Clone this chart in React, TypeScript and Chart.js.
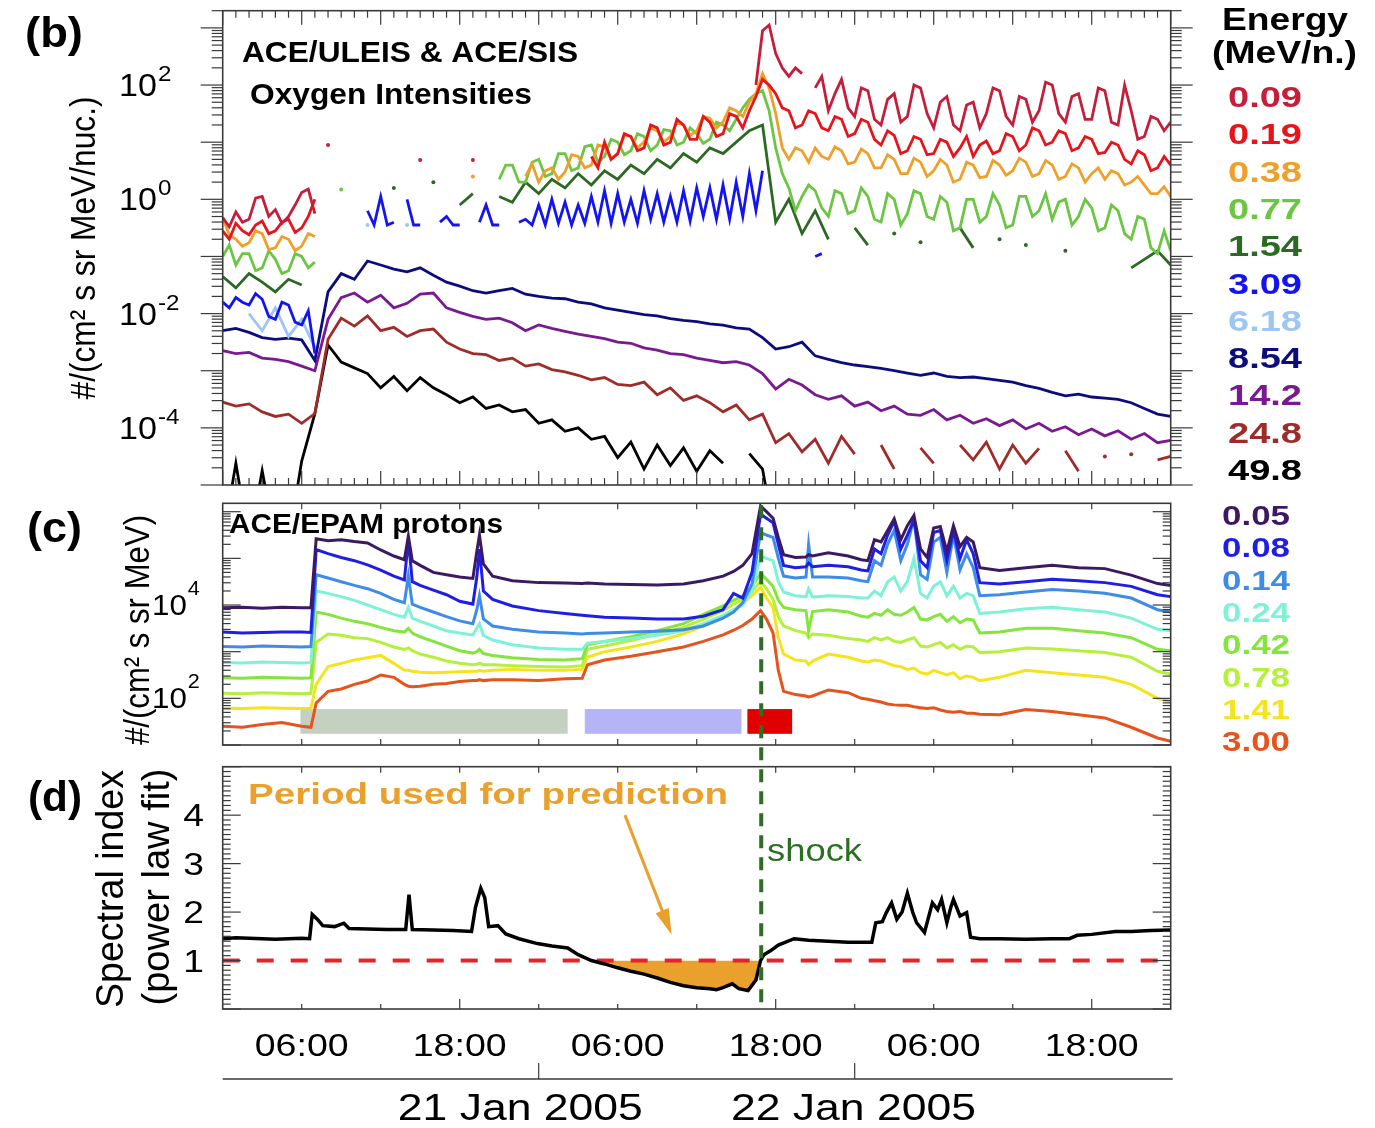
import React, { useEffect, useRef } from "react";
import { Chart, registerables } from "chart.js";

Chart.register(...registerables);

const _ = null;

/* ================= time axis (hours after 20 Jan 2005 00:00 UT) ================= */
const HOUR_MIN = 0;
const HOUR_MAX = 72;
const TIME_TICK_HOURS = [6, 18, 30, 42, 54, 66];
const TIME_TICK_LABELS = ["06:00", "18:00", "06:00", "18:00", "06:00", "18:00"];
const DATE_TICK_HOURS = [24, 48];
const DATE_LABEL_HOURS = [22.6, 47.9];
const DATE_TICK_LABELS = ["21 Jan 2005", "22 Jan 2005"];
const SHOCK_HOUR = 40.9;

/* ================= panel (b): oxygen intensities, log10 ================= */
// hourly grid (73 samples) and half-hour grid (145 samples)
const O_HOURS = Array.from({ length: 73 }, (_v, i) => i);
const O_HALF_HOURS = Array.from({ length: 145 }, (_v, i) => i / 2);
const O_Y_MIN = 1e-5;
const O_Y_MAX = 2e3;
const O_LABEL_DECADES = [-4, -2, 0, 2];

// half-hour samples
const O_009 = [
  -0.32, -0.48, -0.22, -0.40, -0.35, 0.02, 0.05, -0.30, -0.18, -0.42,
  -0.30, -0.10, 0.12, 0.18, -0.25, _, 0.95, _, _, _,
  _, _, _, _, _, _, _, _, _, _,
  0.69, _, _, _, _, _, _, _, 0.69, _,
  _, _, _, _, _, _, _, _, _, _,
  _, _, _, _, _, _, _, _, _, _,
  _, _, _, _, _, _, _, _, _, _,
  _, _, _, _, _, _, _, _, _, _,
  _, 2.00, 2.95, 3.05, 2.55, 2.30, 2.15, 2.30, 2.20, _,
  1.95, 2.15, 1.55, 1.85, 2.10, 1.60, 1.45, 1.95, 1.90, 1.40,
  1.30, 1.75, 1.85, 1.35, 1.45, 2.00, 1.95, 1.50, 1.25, 1.70,
  1.80, 1.30, 1.20, 1.65, 1.70, 1.25, 1.50, 1.95, 1.90, 1.45,
  1.30, 1.80, 1.75, 1.35, 1.55, 2.05, 2.00, 1.50, 1.35, 1.80,
  1.85, 1.40, 1.40, 1.95, 1.90, 1.35, 1.30, 2.00, 1.55, 1.05,
  1.10, 1.45, 1.40, 1.20, 1.35,
];
const O_019 = [
  -0.55, -0.70, -0.42, -0.55, -0.62, -0.45, -0.38, -0.60, -0.55, -0.40,
  -0.35, -0.58, -0.50, -0.30, 0.00, _, _, _, _, _,
  _, _, _, _, _, _, _, _, _, _,
  _, _, _, _, _, _, _, _, _, _,
  _, _, _, _, _, _, _, _, _, _,
  _, _, _, _, _, _, 0.75, 0.55, 1.00, 0.70,
  0.80, 1.15, 1.10, 0.85, 0.90, 1.30, 1.25, 0.95, 1.00, 1.40,
  1.30, 1.05, 1.05, 1.45, 1.35, 1.10, 1.15, 1.50, 1.45, 1.25,
  1.55, 1.80, 2.10, 2.00, 1.85, 1.60, 1.55, 1.25, 1.30, 1.55,
  1.50, 1.25, 1.20, 1.45, 1.40, 1.10, 1.15, 1.40, 1.35, 1.05,
  0.95, 1.20, 1.12, 0.80, 0.85, 1.10, 1.05, 0.78, 0.80, 1.05,
  1.00, 0.75, 0.90, 1.10, 0.75, 0.95, 1.02, 0.80, 0.85, 1.15,
  1.10, 0.85, 0.95, 1.25, 1.20, 0.95, 1.00, 1.20, 1.15, 0.85,
  0.90, 1.10, 1.05, 0.80, 0.82, 1.00, 0.95, 0.70, 0.62, 0.85,
  0.78, 0.50, 0.55, 0.75, 0.60,
];
const O_038 = [
  -0.32, -0.62, -0.70, -0.82, -0.76, -0.55, -0.60, -0.88, -0.85, -0.65,
  -0.70, -0.90, -0.82, -0.60, -0.65, _, _, _, _, _,
  _, _, _, _, _, _, _, _, _, _,
  _, _, _, _, _, _, _, _, 0.40, _,
  _, _, _, _, _, _, 0.40, 0.62, 0.30, 0.50,
  0.55, 0.35, 0.48, 0.78, 0.75, 0.55, 0.60, 0.95, 0.92, 0.70,
  0.80, 1.12, 1.10, 0.90, 1.00, 1.25, 1.20, 1.00, 1.10, 1.35,
  1.30, 1.12, 1.20, 1.45, 1.42, 1.25, 1.35, 1.60, 1.55, 1.45,
  1.70, 1.85, 2.20, 1.95, 1.50, 0.90, 0.70, 0.90, 0.85, 0.65,
  0.90, 0.75, 0.70, 0.92, 0.85, 0.62, 0.65, 0.88, 0.80, 0.55,
  0.55, 0.78, 0.70, 0.45, 0.45, 0.72, 0.65, 0.40, 0.50, 0.70,
  0.60, 0.30, 0.35, 0.65, 0.60, 0.38, 0.40, 0.68, 0.60, 0.42,
  0.50, 0.72, 0.65, 0.40, 0.45, 0.68, 0.60, 0.35, 0.40, 0.62,
  0.55, 0.30, 0.45, 0.55, 0.35, 0.50, 0.45, 0.25, 0.30, 0.40,
  0.25, 0.10, 0.10, 0.22, 0.05,
];
const O_077 = [
  -1.00, -0.80, -1.15, -0.95, -0.95, -1.25, -1.20, -0.90, -1.05, -1.30,
  -1.25, -0.95, -1.00, -1.20, -1.10, _, _, _, 0.17, _,
  _, _, _, _, _, _, _, _, _, _,
  _, _, _, _, _, _, _, _, _, _,
  _, _, 0.35, 0.60, 0.60, 0.30, 0.30, 0.65, 0.70, 0.40,
  0.45, 0.80, 0.80, 0.50, 0.55, 0.92, 0.95, 0.65, 0.75, 1.05,
  1.00, 0.78, 0.85, 1.15, 1.10, 0.85, 0.95, 1.22, 1.20, 0.95,
  1.00, 1.25, 1.15, 0.98, 1.05, 1.35, 1.30, 1.20, 1.40, 1.60,
  1.75, 1.85, 1.90, 1.55, 0.90, 0.45, 0.20, -0.20, 0.05, 0.25,
  0.15, -0.15, -0.30, 0.15, 0.10, -0.25, -0.20, 0.20, 0.05, -0.35,
  -0.40, 0.10, 0.00, -0.45, -0.25, 0.15, 0.10, -0.30, -0.35, 0.05,
  -0.05, -0.55, -0.50, 0.00, 0.00, -0.40, -0.30, 0.10, -0.10, -0.50,
  -0.45, 0.05, 0.05, -0.30, -0.20, 0.10, -0.35, -0.05, 0.00, -0.45,
  -0.30, 0.00, -0.15, -0.55, -0.50, -0.10, -0.20, -0.60, -0.70, -0.30,
  -0.35, -0.85, -0.95, -0.55, -0.90,
];
const O_309 = [
  -1.80, -1.90, -1.72, -1.80, -1.85, -1.65, -1.75, -2.05, -2.10, -1.80,
  -1.85, -2.15, -2.20, -1.95, -2.70, _, _, _, _, _,
  _, _, -0.20, -0.45, 0.05, -0.45, -0.40, _, 0.00, -0.45,
  -0.45, _, _, -0.40, -0.30, -0.45, -0.45, _, _, -0.40,
  -0.10, -0.45, -0.45, _, _, -0.40, -0.35, -0.45, -0.10, -0.45,
  0.00, -0.42, -0.05, -0.45, -0.10, -0.42, 0.05, -0.40, 0.15, -0.42,
  0.10, -0.40, 0.00, -0.42, 0.15, -0.35, 0.10, -0.40, 0.05, -0.40,
  0.15, -0.38, 0.20, -0.30, 0.20, -0.35, 0.25, -0.35, 0.30, -0.30,
  0.45, -0.20, 0.50, _, _, _, _, _, _, _,
  -1.00, -0.95, _, _, _, _, _, _, _, _,
  _, _, _, _, _, _, _, _, _, _,
  _, _, _, _, _, _, _, _, _, _,
  _, _, _, _, _, _, _, _, _, _,
  _, _, _, _, _, _, _, _, _, _,
  _, _, _, _, _,
];
// hourly samples
const O_154 = [
  -1.35, -1.55, -1.30, -1.45, -1.62, -1.40, -1.50, _, _, _,
  _, _, _, 0.20, _, _, 0.30, _, -0.10, 0.10,
  _, 0.05, -0.05, 0.30, 0.10, 0.35, 0.20, 0.45, 0.25, 0.50,
  0.35, 0.60, 0.45, 0.70, 0.55, 0.80, 0.65, 0.90, 0.80, 1.00,
  1.20, 1.30, -0.40, 0.00, -0.60, -0.20, -0.70, _, -0.50, -0.80,
  _, -0.60, _, -0.75, _, _, -0.50, -0.85, _, -0.70,
  _, -0.80, _, _, -0.90, _, _, _, _, -1.20,
  -1.05, -0.90, -1.15,
];
const O_618 = [
  _, _, -2.00, -2.30, -1.90, -2.40, -2.10, -2.60, _, _,
  _, -0.45, _, _, -0.45, _, _, _, _, _,
  _, _, _, _, _, _, _, _, _, _,
  _, _, _, _, _, _, _, _, _, _,
  _, _, _, _, _, _, _, _, _, _,
  _, _, _, _, _, _, _, _, _, _,
  _, _, _, _, _, _, _, _, _, _,
  _, _, _,
];
const O_854 = [
  -2.30, -2.26, -2.33, -2.42, -2.45, -2.43, -2.46, -2.82, -1.62, -1.30,
  -1.40, -1.08, -1.15, -1.22, -1.27, -1.20, -1.33, -1.45, -1.52, -1.60,
  -1.64, -1.60, -1.56, -1.66, -1.70, -1.73, -1.74, -1.80, -1.83, -1.90,
  -1.94, -1.98, -2.02, -2.04, -2.09, -2.12, -2.14, -2.18, -2.20, -2.25,
  -2.27, -2.42, -2.62, -2.58, -2.50, -2.74, -2.80, -2.86, -2.90, -2.93,
  -2.96, -3.00, -3.04, -3.08, -3.04, -3.10, -3.12, -3.11, -3.14, -3.17,
  -3.20, -3.26, -3.31, -3.38, -3.44, -3.41, -3.46, -3.48, -3.50, -3.56,
  -3.66, -3.76, -3.80,
];
const O_142 = [
  -2.65, -2.70, -2.68, -2.78, -2.80, -2.84, -2.92, -3.00, -2.10, -1.72,
  -1.64, -1.80, -1.68, -1.90, -1.82, -1.66, -1.64, -1.90, -1.98, -2.05,
  -2.10, -2.08, -2.16, -2.30, -2.20, -2.26, -2.31, -2.36, -2.40, -2.44,
  -2.50, -2.52, -2.60, -2.64, -2.70, -2.72, -2.78, -2.82, -2.86, -2.84,
  -2.90, -3.05, -3.32, -3.15, -3.25, -3.42, -3.50, -3.44, -3.62, -3.55,
  -3.70, -3.62, -3.76, -3.78, -3.68, -3.86, -3.78, -3.92, -3.84, -3.96,
  -3.86, -4.02, -3.92, -4.06, -3.98, -4.12, -4.02, -4.14, -4.05, -4.20,
  -4.10, -4.26, -4.22,
];
const O_248 = [
  -3.55, -3.62, -3.58, -3.72, -3.80, -3.76, -3.92, -3.75, -2.45, -2.08,
  -2.22, -2.04, -2.30, -2.24, -2.40, -2.30, -2.27, -2.50, -2.62, -2.70,
  -2.72, -2.82, -2.78, -2.92, -2.88, -2.98, -3.02, -3.08, -3.16, -3.12,
  -3.24, -3.26, -3.20, -3.42, -3.30, -3.52, -3.44, -3.56, -3.72, -3.60,
  -3.86, -3.76, -4.26, -4.10, -4.42, -4.20, -4.62, -4.15, -4.46, _,
  -4.30, -4.72, _, -4.35, -4.62, _, -4.30, -4.56, -4.25, -4.72,
  -4.30, -4.62, -4.36, _, -4.40, -4.76, _, -4.50, _, -4.46,
  _, -4.56, -4.50,
];
const O_498 = [
  -6.00, -4.62, -6.00, -4.75, -6.00, -6.00, -4.58, -3.75, -2.55, -2.85,
  -2.95, -3.05, -3.30, -3.10, -3.35, -3.12, -3.30, -3.42, -3.56, -3.46,
  -3.66, -3.60, -3.72, -3.68, -3.92, -3.86, -4.06, -4.00, -4.20, -4.15,
  -4.52, -4.25, -4.72, -4.30, -4.66, -4.35, -4.76, -4.40, -4.62, _,
  -4.45, -4.72, -6.00, _, _, _, _, _, _, _,
  _, _, _, _, _, _, _, _, _, _,
  _, _, _, _, _, _, _, _, _, _,
  _, _, _,
];
const O_ENERGIES = ["0.09", "0.19", "0.38", "0.77", "1.54", "3.09", "6.18", "8.54", "14.2", "24.8", "49.8"];
const O_COLORS = ["#c41e3a", "#e8141c", "#eea02a", "#6cc644", "#2b6a22", "#1414f0", "#9ec6f2", "#0c0c7e", "#7a1a92", "#9e2d2a", "#000000"];
const O_SERIES = [O_009, O_019, O_038, O_077, O_154, O_309, O_618, O_854, O_142, O_248, O_498];

/* ================= panel (c): EPAM protons, log10 intensity ================= */
const P_HOURS = [
  0, 1.5, 3, 4.5, 6, 6.7, 7.1, 8, 9, 10,
  11, 12, 13, 13.8, 14.1, 14.4, 15, 16, 17, 18,
  19, 19.3, 19.5, 19.8, 20.5, 22, 24, 26, 27.3, 27.7,
  29, 31, 33, 35, 36.5, 38, 38.8, 39.5, 40.2, 40.85,
  41.3, 41.8, 42.2, 42.6, 43.5, 44.3, 44.5, 44.8, 46, 47.5,
  48.5, 49, 49.5, 50, 50.5, 51, 51.5, 52, 52.5, 53,
  53.5, 54, 54.5, 55, 55.5, 56, 56.5, 57, 57.5, 59,
  61, 63, 65, 67, 69, 71, 72,
];
const P_Y_MIN = 10;
const P_Y_MAX = 1.5136e6;
const P_LABEL_DECADES = [2, 4];
const P_005 = [
  3.94, 3.95, 3.93, 3.95, 3.94, 3.94, 5.42, 5.38, 5.40, 5.36,
  5.33, 5.18, 5.05, 4.97, 5.48, 4.95, 4.85, 4.70, 4.65, 4.60,
  4.57, 5.15, 5.50, 4.88, 4.62, 4.52, 4.48, 4.47, 4.46, 4.47,
  4.45, 4.44, 4.43, 4.45, 4.52, 4.62, 4.72, 4.85, 5.10, 6.12,
  6.00, 5.86, 5.45, 5.08, 5.02, 5.03, 5.08, 5.05, 5.12, 5.05,
  4.97, 4.95, 5.40, 5.35, 5.60, 5.85, 5.40, 5.70, 5.92, 5.20,
  5.02, 5.65, 5.68, 5.15, 5.70, 5.25, 5.45, 5.35, 4.80, 4.74,
  4.80, 4.85, 4.80, 4.78, 4.64, 4.46, 4.42,
];
const P_008 = [
  3.42, 3.40, 3.41, 3.42, 3.42, 3.41, 5.19, 5.10, 5.02, 4.95,
  4.86, 4.75, 4.62, 4.54, 5.40, 4.50, 4.42, 4.32, 4.22, 4.08,
  4.02, 4.60, 5.20, 4.30, 4.12, 3.98, 3.88, 3.82, 3.78, 3.77,
  3.74, 3.72, 3.70, 3.70, 3.76, 3.90, 4.25, 4.15, 4.70, 5.95,
  5.86, 5.76, 5.30, 4.85, 4.80, 4.82, 4.90, 4.82, 4.85, 4.82,
  4.75, 4.73, 5.20, 5.10, 5.50, 5.80, 5.20, 5.50, 5.82, 4.95,
  4.80, 5.55, 5.60, 4.95, 5.60, 5.00, 5.40, 5.10, 4.48, 4.45,
  4.50, 4.55, 4.52, 4.48, 4.40, 4.22, 4.18,
];
const P_014 = [
  3.11, 3.10, 3.12, 3.11, 3.10, 3.11, 4.65, 4.58, 4.50, 4.42,
  4.35, 4.25, 4.12, 4.05, 4.62, 4.02, 3.95, 3.85, 3.75, 3.66,
  3.60, 3.90, 4.20, 3.70, 3.55, 3.48, 3.42, 3.40, 3.38, 3.39,
  3.40, 3.42, 3.44, 3.47, 3.55, 3.72, 3.85, 4.05, 4.45, 5.55,
  5.50, 5.45, 5.00, 4.62, 4.58, 4.60, 5.30, 4.60, 4.60, 4.58,
  4.52, 4.50, 4.95, 4.85, 5.30, 5.60, 4.95, 5.30, 5.85, 4.65,
  4.55, 5.35, 5.45, 4.70, 5.50, 4.75, 5.10, 4.80, 4.20, 4.22,
  4.28, 4.33, 4.30, 4.25, 4.15, 3.90, 3.85,
];
const P_024 = [
  2.77, 2.76, 2.78, 2.77, 2.76, 2.77, 4.30, 4.25, 4.18, 4.10,
  4.00, 3.90, 3.80, 3.74, 3.95, 3.72, 3.65, 3.55, 3.45, 3.40,
  3.36, 3.50, 3.60, 3.35, 3.25, 3.15, 3.08, 3.05, 3.05, 3.18,
  3.22, 3.28, 3.35, 3.45, 3.60, 3.78, 3.90, 4.00, 4.30, 5.05,
  5.00, 4.95, 4.50, 4.28, 4.20, 4.18, 4.35, 4.17, 4.20, 4.18,
  4.15, 4.15, 4.30, 4.20, 4.50, 4.60, 4.30, 4.50, 5.00, 4.25,
  4.15, 4.40, 4.50, 4.20, 4.40, 4.15, 4.25, 4.20, 3.82, 3.85,
  3.92, 3.95, 3.90, 3.85, 3.72, 3.48, 3.45,
];
const P_042 = [
  2.44, 2.43, 2.45, 2.44, 2.43, 2.44, 3.85, 3.80, 3.72, 3.65,
  3.60, 3.52, 3.45, 3.42, 3.50, 3.40, 3.32, 3.22, 3.12, 3.02,
  2.97, 3.00, 3.05, 2.96, 2.92, 2.87, 2.83, 2.82, 2.85, 3.15,
  3.22, 3.32, 3.45, 3.60, 3.80, 3.98, 4.10, 4.20, 4.40, 4.68,
  4.55, 4.40, 4.10, 3.95, 3.90, 3.88, 3.45, 3.86, 3.90, 3.85,
  3.76, 3.74, 3.82, 3.78, 3.90, 3.80, 3.78, 3.85, 3.95, 3.70,
  3.68, 3.75, 3.80, 3.65, 3.75, 3.62, 3.70, 3.68, 3.40, 3.42,
  3.50, 3.50, 3.45, 3.40, 3.30, 3.05, 3.02,
];
const P_078 = [
  2.11, 2.10, 2.12, 2.11, 2.10, 2.11, 3.20, 3.38, 3.35, 3.30,
  3.28, 3.20, 3.10, 3.05, 3.08, 3.02, 2.95, 2.88, 2.80, 2.75,
  2.72, 2.73, 2.75, 2.72, 2.72, 2.70, 2.68, 2.67, 2.70, 3.05,
  3.12, 3.24, 3.38, 3.52, 3.70, 3.88, 4.02, 4.12, 4.30, 4.50,
  4.35, 4.12, 3.75, 3.55, 3.45, 3.40, 3.30, 3.38, 3.35, 3.28,
  3.25, 3.22, 3.30, 3.25, 3.30, 3.22, 3.20, 3.25, 3.30, 3.12,
  3.10, 3.15, 3.20, 3.08, 3.15, 3.05, 3.12, 3.10, 2.98, 3.00,
  3.08, 3.06, 3.02, 2.98, 2.88, 2.58, 2.52,
];
const P_141 = [
  1.79, 1.78, 1.80, 1.79, 1.78, 1.79, 2.30, 2.68, 2.75, 2.82,
  2.87, 2.92, 2.75, 2.60, 2.60, 2.58, 2.56, 2.55, 2.56, 2.57,
  2.58, 2.58, 2.60, 2.58, 2.60, 2.62, 2.60, 2.60, 2.62, 2.88,
  3.00, 3.10, 3.22, 3.38, 3.55, 3.75, 3.88, 4.05, 4.20, 4.38,
  4.15, 3.95, 3.30, 2.95, 2.82, 2.80, 2.72, 2.80, 2.95, 2.88,
  2.80, 2.78, 2.82, 2.80, 2.75, 2.70, 2.68, 2.62, 2.65, 2.55,
  2.52, 2.60, 2.55, 2.50, 2.55, 2.42, 2.48, 2.45, 2.38, 2.45,
  2.60, 2.55, 2.50, 2.45, 2.30, 2.00, 1.93,
];
const P_300 = [
  1.40, 1.38, 1.44, 1.48, 1.40, 1.38, 1.90, 2.15, 2.20, 2.30,
  2.37, 2.50, 2.45, 2.30, 2.26, 2.25, 2.26, 2.30, 2.32, 2.36,
  2.38, 2.38, 2.40, 2.38, 2.40, 2.40, 2.38, 2.42, 2.43, 2.72,
  2.82, 2.90, 3.00, 3.10, 3.22, 3.36, 3.46, 3.56, 3.70, 3.88,
  3.70, 3.40, 2.60, 2.15, 2.08, 2.05, 2.03, 2.05, 2.18, 2.12,
  2.00, 1.98, 1.95, 1.92, 1.88, 1.86, 1.85, 1.85, 1.82, 1.80,
  1.78, 1.80, 1.75, 1.72, 1.70, 1.72, 1.68, 1.68, 1.66, 1.65,
  1.76, 1.72, 1.65, 1.58, 1.38, 1.15, 1.08,
];
const P_ENERGIES = ["0.05", "0.08", "0.14", "0.24", "0.42", "0.78", "1.41", "3.00"];
const P_COLORS = ["#3c1a62", "#1e1ee6", "#3f8be8", "#7ef2d6", "#84e53c", "#b5f03a", "#f5e31c", "#e8521c"];
const P_SERIES = [P_005, P_008, P_014, P_024, P_042, P_078, P_141, P_300];

// intervals marked by coloured bars in panel (c)
const BAR_STARTS = [5.9, 27.5, 39.85];
const BAR_ENDS = [26.2, 39.4, 43.25];
const BAR_COLORS = ["#c5d1c0", "#b4b4f6", "#e00000"];
const BAR_LOG_RANGE = [1.24, 1.77];

/* ================= panel (d): spectral index ================= */
const SI_HOURS = [
  0, 1, 2, 3, 4, 5, 6, 6.6, 6.8, 7.2, 7.6, 8.5, 9.2, 9.6, 11, 12.5, 13.9, 14.15, 14.4, 16,
  17.5, 18.9, 19.2, 19.6, 19.9, 20.2, 20.9, 21.5, 22.5, 23.9, 25, 26.2, 27, 28, 29, 30, 31, 32, 33, 34,
  35, 36, 37, 37.5, 38, 38.7, 39.2, 39.9, 40.5, 40.85, 41.1, 41.6, 42.2, 43.4, 44.5, 46, 47.5, 49.3, 49.6, 50.1,
  50.4, 50.8, 51.2, 51.6, 52, 52.4, 52.7, 53.3, 53.9, 54.3, 54.6, 55, 55.3, 55.5, 56, 56.5, 56.8, 57.5, 59, 61,
  63, 64.3, 64.9, 66, 67.8, 69, 70.5, 72,
];
const SI_VALUES = [
  1.45, 1.47, 1.46, 1.45, 1.44, 1.45, 1.46, 1.45, 1.95, 1.85, 1.72, 1.70, 1.77, 1.66, 1.65, 1.64, 1.64, 2.36, 1.64, 1.63,
  1.62, 1.60, 2.10, 2.49, 2.30, 1.70, 1.72, 1.55, 1.45, 1.35, 1.30, 1.26, 1.12, 1.00, 0.93, 0.85, 0.78, 0.72, 0.64, 0.55,
  0.48, 0.44, 0.42, 0.40, 0.44, 0.52, 0.42, 0.38, 0.60, 1.00, 1.12, 1.20, 1.32, 1.45, 1.42, 1.40, 1.38, 1.38, 1.78, 1.80,
  1.99, 2.19, 1.85, 2.00, 2.39, 2.00, 1.78, 1.58, 2.19, 2.05, 2.26, 1.78, 2.10, 2.26, 1.92, 1.99, 1.48, 1.45, 1.45, 1.44,
  1.45, 1.45, 1.52, 1.54, 1.60, 1.60, 1.62, 1.63,
];
const SI_MIN = 0;
const SI_MAX = 5;
const SI_REFERENCE = 1;
const SI_LABELS = [1, 2, 3, 4];
const PREDICTION_PERIOD = [28, 40.85];
const ARROW_FROM = [30.55, 4.0];
const ARROW_TO = [34.1, 1.53];

/* ================= layout & style ================= */
const W = 1375;
const H = 1128;
const PLOT_LEFT = 222.7;
const PLOT_RIGHT = 1170.7;
const B_TOP = 10.7, B_BOTTOM = 485;
const C_TOP = 503.3, C_BOTTOM = 745;
const D_TOP = 766.7, D_BOTTOM = 1009;
const FONT = '"Liberation Sans", Arial, Helvetica, sans-serif';
const AXIS_COLOR = "#3a3a3a";
const ORANGE = "#e9a02c";
const SHOCK_GREEN = "#2c6e22";
const DASH_RED = "#e3242b";

function drawText(ctx: CanvasRenderingContext2D, s: string, x: number, y: number, o: any) {
  ctx.save();
  ctx.font = `${o.bold ? "bold " : ""}${o.size}px ${FONT}`;
  ctx.fillStyle = o.color || "#000";
  ctx.textAlign = o.align || "left";
  ctx.textBaseline = o.baseline || "alphabetic";
  const w = ctx.measureText(s).width;
  const sx = o.width ? o.width / w : o.sx || 1;
  ctx.translate(x, y);
  if (o.rotate) ctx.rotate(-Math.PI / 2);
  ctx.scale(sx, o.sy || 1);
  ctx.fillText(s, 0, 0);
  ctx.restore();
  return w * sx;
}

function seg(ctx: CanvasRenderingContext2D, x1: number, y1: number, x2: number, y2: number) {
  ctx.beginPath();
  ctx.moveTo(x1, y1);
  ctx.lineTo(x2, y2);
  ctx.stroke();
}

function logTicks(min: number, max: number) {
  const out: { v: number; major: boolean }[] = [];
  const d0 = Math.floor(Math.log10(min));
  const d1 = Math.ceil(Math.log10(max));
  for (let d = d0; d <= d1; d++) {
    for (let k = 1; k <= 9; k++) {
      const v = k * Math.pow(10, d);
      if (v >= min * 0.9999 && v <= max * 1.0001) out.push({ v, major: k === 1 });
    }
  }
  return out;
}

function powerLabel(ctx: CanvasRenderingContext2D, left: number, tickY: number, exp: string, o: any) {
  const w = drawText(ctx, "10", left, tickY + o.dy, { size: o.size, sx: o.sx });
  drawText(ctx, exp, left + w + 1, tickY + o.edy, { size: o.esize, sx: o.sx });
}

function strokeFrame(ctx: CanvasRenderingContext2D, a: any) {
  ctx.save();
  ctx.strokeStyle = AXIS_COLOR;
  ctx.lineWidth = 1.6;
  ctx.strokeRect(a.left, a.top, a.right - a.left, a.bottom - a.top);
  ctx.restore();
}

function isolatedRadius(ctx: any) {
  const d = ctx.dataset.data;
  const i = ctx.dataIndex;
  const p = d[i];
  if (!p || p.y === null) return 0;
  const prev = d[i - 1];
  const next = d[i + 1];
  const lonely = (!prev || prev.y === null) && (!next || next.y === null);
  return lonely ? 2 : 0;
}

function baseOptions(top: number, bottom: number, yScale: any) {
  return {
    responsive: false,
    animation: false as const,
    devicePixelRatio: 1,
    events: [] as any[],
    layout: { padding: { left: PLOT_LEFT, right: W - PLOT_RIGHT, top, bottom: H - bottom } },
    plugins: { legend: { display: false }, tooltip: { enabled: false } },
    scales: {
      x: { type: "linear" as const, min: HOUR_MIN, max: HOUR_MAX, display: false },
      y: { ...yScale, display: false },
    },
    elements: { point: { radius: 0 }, line: { tension: 0 } },
  };
}

/* ---------------- panel (b) ---------------- */
const panelBPlugin = {
  id: "panelB",
  afterDraw(chart: any) {
    const { ctx, chartArea: a, scales } = chart;
    const x = scales.x, y = scales.y;
    ctx.save();
    ctx.strokeStyle = AXIS_COLOR;
    ctx.lineWidth = 1.2;
    for (let h = HOUR_MIN; h <= HOUR_MAX; h++) {
      const px = x.getPixelForValue(h);
      const len = h % 6 === 0 ? 14 : 7;
      seg(ctx, px, a.top, px, a.top + len);
      seg(ctx, px, a.bottom, px, a.bottom - len);
    }
    for (const t of logTicks(y.min, y.max)) {
      const py = y.getPixelForValue(t.v);
      const len = t.major ? 22 : 11;
      seg(ctx, a.left - len, py, a.left, py);
      seg(ctx, a.right, py, a.right + len, py);
    }
    ctx.restore();
    strokeFrame(ctx, a);
    for (const d of O_LABEL_DECADES) {
      powerLabel(ctx, 119, y.getPixelForValue(Math.pow(10, d)), String(d), { size: 31, esize: 22, dy: 11, edy: -4, sx: 1.1 });
    }
    drawText(ctx, "(b)", 54, 47, { size: 42, bold: true, align: "center", width: 58 });
    drawText(ctx, "ACE/ULEIS & ACE/SIS", 242, 62, { size: 30, bold: true, width: 336 });
    drawText(ctx, "Oxygen Intensities", 250, 104, { size: 30, bold: true, width: 282 });
    drawText(ctx, "#/(cm\u00b2 s sr MeV/nuc.)", 85, 248, { size: 31, rotate: true, align: "center", baseline: "middle", width: 303, sy: 1.15 });
    drawText(ctx, "Energy", 1285, 30, { size: 31, bold: true, align: "center", width: 126 });
    drawText(ctx, "(MeV/n.)", 1284.5, 63, { size: 31, bold: true, align: "center", width: 145 });
    O_ENERGIES.forEach((e, i) => {
      drawText(ctx, e, 1265, 96 + i * 37.3 + 11, { size: 30, bold: true, align: "center", width: 74, color: O_COLORS[i] });
    });
  },
};

function buildB(canvas: HTMLCanvasElement) {
  const datasets = O_SERIES.map((vals, i) => {
    const hours = vals.length === O_HALF_HOURS.length ? O_HALF_HOURS : O_HOURS;
    return {
      data: vals.map((v, j) => ({ x: hours[j], y: v === null ? null : Math.pow(10, v) })),
      borderColor: O_COLORS[i],
      backgroundColor: O_COLORS[i],
      borderWidth: 2.8,
      pointRadius: isolatedRadius,
      pointBorderWidth: 0,
      spanGaps: false,
    };
  });
  return new Chart(canvas, {
    type: "line",
    data: { datasets },
    options: baseOptions(B_TOP, B_BOTTOM, { type: "logarithmic", min: O_Y_MIN, max: O_Y_MAX }) as any,
    plugins: [panelBPlugin],
  });
}

/* ---------------- panel (c) ---------------- */
const panelCPlugin = {
  id: "panelC",
  beforeDatasetsDraw(chart: any) {
    const { ctx, scales } = chart;
    const x = scales.x, y = scales.y;
    const y1 = y.getPixelForValue(Math.pow(10, BAR_LOG_RANGE[1]));
    const y0 = y.getPixelForValue(Math.pow(10, BAR_LOG_RANGE[0]));
    ctx.save();
    BAR_STARTS.forEach((s, i) => {
      const x0 = x.getPixelForValue(s);
      const x1 = x.getPixelForValue(BAR_ENDS[i]);
      ctx.fillStyle = BAR_COLORS[i];
      ctx.fillRect(x0, y1, x1 - x0, y0 - y1);
    });
    ctx.restore();
  },
  afterDraw(chart: any) {
    const { ctx, chartArea: a, scales } = chart;
    const x = scales.x, y = scales.y;
    ctx.save();
    ctx.strokeStyle = AXIS_COLOR;
    ctx.lineWidth = 1.2;
    for (let h = HOUR_MIN + 6; h < HOUR_MAX; h += 6) {
      const px = x.getPixelForValue(h);
      seg(ctx, px, a.top, px, a.top + 6);
      seg(ctx, px, a.bottom, px, a.bottom - 6);
    }
    for (const t of logTicks(y.min, y.max)) {
      const py = y.getPixelForValue(t.v);
      const len = t.major ? 18 : 8;
      seg(ctx, a.left, py, a.left + len, py);
      seg(ctx, a.right - len, py, a.right, py);
    }
    ctx.restore();
    strokeFrame(ctx, a);
    for (const d of P_LABEL_DECADES) {
      powerLabel(ctx, 152, y.getPixelForValue(Math.pow(10, d)), String(d), { size: 29, esize: 20, dy: 10, edy: -10, sx: 1.08 });
    }
    drawText(ctx, "(c)", 54.5, 542, { size: 42, bold: true, align: "center", width: 55 });
    drawText(ctx, "ACE/EPAM protons", 229, 533, { size: 28, bold: true, width: 274 });
    drawText(ctx, "#/(cm\u00b2 s sr MeV)", 139, 630, { size: 31, rotate: true, align: "center", baseline: "middle", width: 230, sy: 1.15 });
    P_ENERGIES.forEach((e, i) => {
      drawText(ctx, e, 1256, 515 + i * 32.3 + 10, { size: 28, bold: true, align: "center", width: 68, color: P_COLORS[i] });
    });
  },
};

function buildC(canvas: HTMLCanvasElement) {
  const datasets = P_SERIES.map((vals, i) => ({
    data: vals.map((v, j) => ({ x: P_HOURS[j], y: Math.pow(10, v) })),
    borderColor: P_COLORS[i],
    borderWidth: 3,
    pointRadius: 0,
  }));
  return new Chart(canvas, {
    type: "line",
    data: { datasets },
    options: baseOptions(C_TOP, C_BOTTOM, { type: "logarithmic", min: P_Y_MIN, max: P_Y_MAX }) as any,
    plugins: [panelCPlugin],
  });
}

/* ---------------- panel (d) ---------------- */
const panelDPlugin = {
  id: "panelD",
  afterDraw(chart: any) {
    const { ctx, chartArea: a, scales } = chart;
    const x = scales.x, y = scales.y;
    ctx.save();
    ctx.strokeStyle = AXIS_COLOR;
    ctx.lineWidth = 1.2;
    for (let h = HOUR_MIN + 6; h < HOUR_MAX; h += 6) {
      const px = x.getPixelForValue(h);
      seg(ctx, px, a.top, px, a.top + 6);
      const len = h % 24 === 18 ? 10 : 5;
      seg(ctx, px, a.bottom, px, a.bottom - len);
    }
    for (let k = 0; k <= 50; k++) {
      const v = SI_MIN + k * 0.1;
      if (v > SI_MAX + 1e-9) break;
      const py = y.getPixelForValue(v);
      const len = k % 10 === 0 ? 18 : 8;
      seg(ctx, a.left, py, a.left + len, py);
      seg(ctx, a.right - len, py, a.right, py);
    }
    ctx.restore();
    strokeFrame(ctx, a);

    SI_LABELS.forEach((v) => {
      drawText(ctx, String(v), 204, y.getPixelForValue(v) + 11, { size: 31, align: "right", sx: 1.2 });
    });
    TIME_TICK_HOURS.forEach((h, i) => {
      drawText(ctx, TIME_TICK_LABELS[i], x.getPixelForValue(h), 1056, { size: 32, align: "center", width: 94 });
    });
    // date axis
    ctx.save();
    ctx.strokeStyle = AXIS_COLOR;
    ctx.lineWidth = 1.5;
    seg(ctx, a.left, 1079, a.right + 2, 1079);
    ctx.lineWidth = 1.2;
    DATE_TICK_HOURS.forEach((h) => {
      const px = x.getPixelForValue(h);
      seg(ctx, px, 1079, px, 1063);
    });
    ctx.restore();
    DATE_TICK_LABELS.forEach((s, i) => {
      drawText(ctx, s, x.getPixelForValue(DATE_LABEL_HOURS[i]), 1120, { size: 37, align: "center", width: 245 });
    });

    drawText(ctx, "(d)", 55, 811, { size: 42, bold: true, align: "center", width: 54 });
    drawText(ctx, "Spectral index", 112, 889, { size: 35, rotate: true, align: "center", baseline: "middle", width: 238, sy: 1.12 });
    drawText(ctx, "(power law fit)", 158, 887, { size: 35, rotate: true, align: "center", baseline: "middle", width: 237, sy: 1.12 });
    drawText(ctx, "Period used for prediction", 248, 804, { size: 30, bold: true, color: ORANGE, width: 480 });

    // arrow
    const ax1 = x.getPixelForValue(ARROW_FROM[0]);
    const ay1 = y.getPixelForValue(ARROW_FROM[1]);
    const ax2 = x.getPixelForValue(ARROW_TO[0]);
    const ay2 = y.getPixelForValue(ARROW_TO[1]);
    const ang = Math.atan2(ay2 - ay1, ax2 - ax1);
    const hl = 26, hw = 7;
    ctx.save();
    ctx.strokeStyle = ORANGE;
    ctx.fillStyle = ORANGE;
    ctx.lineWidth = 3;
    seg(ctx, ax1, ay1, ax2 - Math.cos(ang) * (hl - 4), ay2 - Math.sin(ang) * (hl - 4));
    ctx.beginPath();
    ctx.moveTo(ax2, ay2);
    ctx.lineTo(ax2 - hl * Math.cos(ang) - hw * Math.sin(ang), ay2 - hl * Math.sin(ang) + hw * Math.cos(ang));
    ctx.lineTo(ax2 - hl * Math.cos(ang) + hw * Math.sin(ang), ay2 - hl * Math.sin(ang) - hw * Math.cos(ang));
    ctx.closePath();
    ctx.fill();
    ctx.restore();

    // shock line spanning panels (c) and (d)
    const sx = x.getPixelForValue(SHOCK_HOUR);
    ctx.save();
    ctx.strokeStyle = SHOCK_GREEN;
    ctx.lineWidth = 4;
    ctx.setLineDash([13, 9]);
    seg(ctx, sx, C_TOP + 2, sx, a.bottom);
    ctx.restore();
    drawText(ctx, "shock", 767, 861, { size: 32, color: SHOCK_GREEN, width: 95 });
  },
};

function buildD(canvas: HTMLCanvasElement) {
  const points = SI_HOURS.map((h, i) => ({ x: h, y: SI_VALUES[i] }));
  const fillPoints = points.filter((p) => p.x >= PREDICTION_PERIOD[0] && p.x <= PREDICTION_PERIOD[1]);
  return new Chart(canvas, {
    type: "line",
    data: {
      datasets: [
        { data: points, borderColor: "#000", borderWidth: 3.5, pointRadius: 0, order: 0 },
        {
          data: [{ x: HOUR_MIN, y: SI_REFERENCE }, { x: HOUR_MAX, y: SI_REFERENCE }],
          borderColor: DASH_RED,
          borderWidth: 4,
          borderDash: [17, 17],
          pointRadius: 0,
          order: 1,
        },
        {
          data: fillPoints,
          borderColor: "rgba(0,0,0,0)",
          borderWidth: 0,
          pointRadius: 0,
          fill: { target: { value: SI_REFERENCE }, above: "rgba(0,0,0,0)", below: ORANGE },
          order: 2,
        },
      ],
    },
    options: baseOptions(D_TOP, D_BOTTOM, { type: "linear", min: SI_MIN, max: SI_MAX }) as any,
    plugins: [panelDPlugin],
  });
}

export default function App() {
  const refB = useRef<HTMLCanvasElement>(null);
  const refC = useRef<HTMLCanvasElement>(null);
  const refD = useRef<HTMLCanvasElement>(null);
  useEffect(() => {
    const charts = [buildB(refB.current!), buildC(refC.current!), buildD(refD.current!)];
    return () => charts.forEach((c) => c.destroy());
  }, []);
  const style: React.CSSProperties = { position: "absolute", left: 0, top: 0, width: W, height: H };
  return (
    <div style={{ position: "absolute", left: 0, top: 0, width: W, height: H, background: "#fff" }}>
      <canvas ref={refB} width={W} height={H} style={style} />
      <canvas ref={refC} width={W} height={H} style={style} />
      <canvas ref={refD} width={W} height={H} style={style} />
    </div>
  );
}
